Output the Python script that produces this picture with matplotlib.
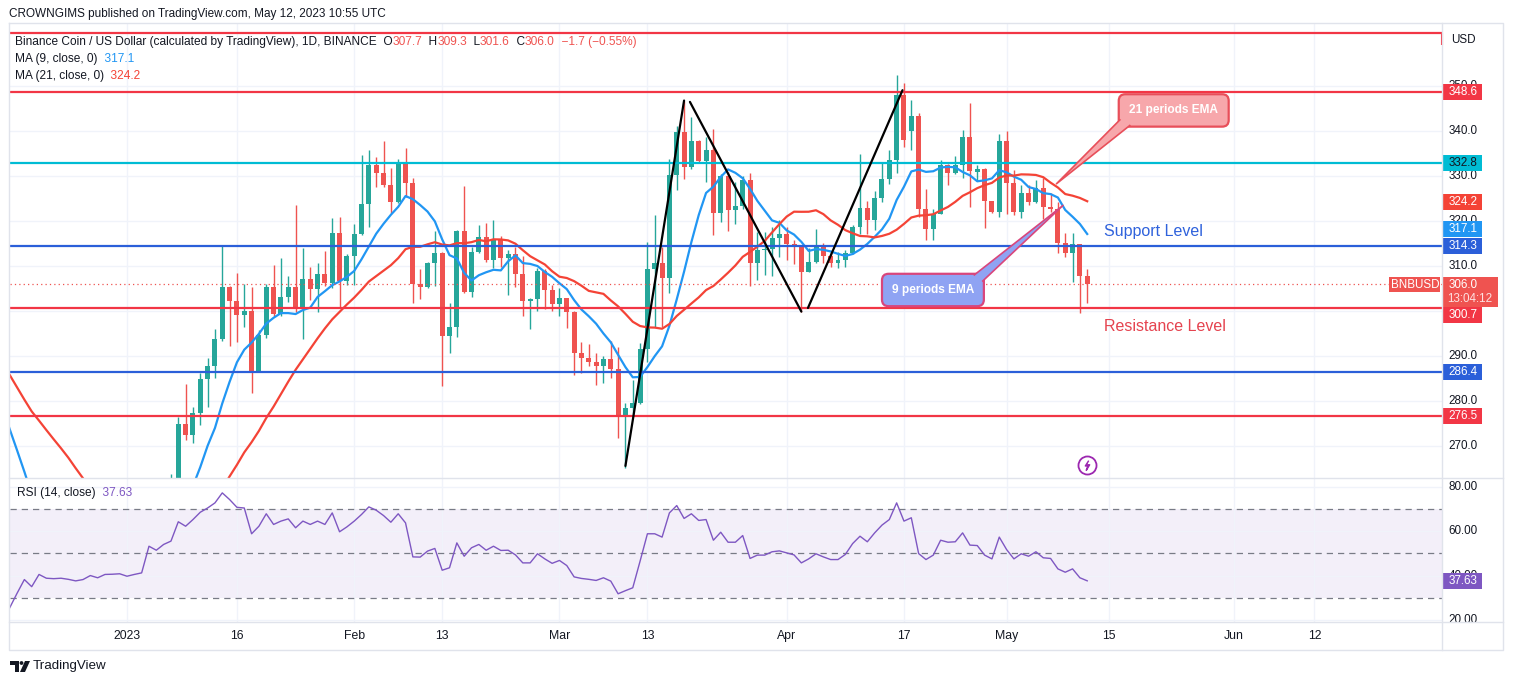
import numpy as np
import pandas as pd
import matplotlib
matplotlib.use("Agg")
import matplotlib.pyplot as plt
from matplotlib.patches import Rectangle, Polygon, FancyBboxPatch
from matplotlib.transforms import blended_transform_factory

plt.rcParams['font.family'] = ['Liberation Sans', 'DejaVu Sans']

# ---------------- data ----------------
# BNB/USD daily candles 2023-01-07 .. 2023-05-12
first_day = '2023-01-07'
opens = [
    # Jan 7-31
    259.0, 260.0, 274.8, 272.4, 277.2, 284.8, 287.6, 293.6, 305.2, 302.2,
    299.0, 300.0, 286.7, 294.7, 305.2, 299.2, 303.0, 305.2, 300.3, 307.0,
    304.8, 308.1, 306.2, 317.2, 306.7,
    # Feb
    312.2, 317.0, 323.7, 332.4, 330.5, 327.9, 324.2, 333.1, 328.3, 305.9,
    305.3, 310.7, 312.8, 294.4, 296.4, 317.6, 304.2, 313.1, 316.4, 311.3,
    315.6, 311.6, 312.6, 308.2, 302.2, 302.6, 308.8, 304.6,
    # Mar
    301.5, 302.8, 299.8, 290.7, 289.4, 288.7, 287.7, 289.2, 287.0, 276.4,
    278.3, 279.4, 291.4, 309.2, 310.6, 307.3, 330.2, 339.8, 331.9, 337.6,
    333.3, 335.6, 321.8, 330.0, 322.4, 323.3, 329.0, 310.7, 313.5, 313.8,
    316.1,
    # Apr
    317.0, 314.8, 314.1, 308.7, 310.9, 314.2, 312.2, 310.5, 311.3, 312.8,
    318.7, 322.8, 320.2, 325.0, 329.2, 333.5, 347.9, 340.0, 343.3, 322.5,
    318.1, 321.5, 332.4, 330.7, 332.4, 338.7, 330.8, 331.4, 324.4, 322.0,
    # May 1-12
    337.8, 328.3, 322.0, 326.1, 324.2, 327.2, 323.1, 322.5, 315.1, 312.9,
    314.8, 307.7,
]
highs = [
    263.6, 276.3, 283.7, 278.7, 286.1, 289.4, 295.9, 314.4, 305.5, 308.3,
    305.9, 305.2, 295.7, 305.9, 310.2, 311.8, 307.7, 323.5, 313.9, 309.8,
    310.7, 313.3, 320.5, 320.8, 312.5,
    319.3, 334.6, 335.6, 334.1, 337.6, 331.6, 333.8, 336.1, 329.5, 309.2,
    310.9, 317.6, 313.0, 301.6, 317.9, 327.7, 314.2, 319.0, 319.4, 320.2,
    316.5, 313.5, 314.2, 312.2, 302.8, 309.4, 309.3, 305.6,
    305.0, 302.9, 300.0, 293.1, 292.6, 290.5, 290.0, 293.3, 292.0, 279.4,
    284.6, 292.8, 315.3, 321.3, 314.2, 333.6, 341.0, 346.7, 343.0, 337.9,
    338.7, 340.3, 330.3, 330.8, 328.7, 330.0, 330.5, 317.4, 317.4, 318.5,
    320.1,
    318.7, 315.6, 314.2, 313.9, 318.1, 315.0, 313.3, 313.0, 313.5, 319.0,
    334.8, 324.3, 326.5, 333.1, 335.6, 352.4, 350.7, 346.8, 344.0, 327.0,
    322.7, 333.4, 332.7, 334.3, 340.2, 346.1, 332.3, 331.8, 324.4, 339.2,
    339.9, 331.3, 327.9, 328.0, 329.0, 329.4, 326.2, 324.2, 317.2, 317.2,
    314.8, 309.3,
]
lows = [
    257.5, 258.5, 271.3, 270.5, 274.6, 278.7, 285.0, 293.3, 292.2, 293.1,
    296.4, 281.6, 286.5, 294.0, 298.8, 298.8, 302.0, 299.6, 293.6, 302.4,
    299.6, 305.4, 305.0, 300.8, 305.6,
    305.8, 316.8, 318.7, 327.4, 327.4, 321.8, 324.0, 325.3, 301.6, 302.7,
    305.0, 305.5, 283.3, 290.5, 294.2, 303.9, 303.0, 312.8, 310.8, 309.4,
    309.8, 303.5, 305.3, 298.8, 295.9, 300.0, 300.3, 300.0,
    298.8, 296.1, 285.7, 286.1, 287.6, 283.5, 284.0, 285.1, 271.6, 265.0,
    277.0, 279.2, 288.7, 296.4, 296.4, 304.0, 326.8, 329.2, 331.5, 333.0,
    328.7, 316.8, 319.8, 317.6, 319.3, 322.6, 305.5, 306.8, 308.0, 307.8,
    312.0,
    311.3, 310.4, 299.8, 308.5, 310.7, 310.7, 309.6, 309.5, 309.6, 312.5,
    317.0, 317.0, 318.0, 324.2, 328.2, 330.5, 336.3, 335.7, 320.9, 315.7,
    315.8, 321.5, 327.9, 330.4, 329.4, 323.1, 328.8, 318.3, 321.6, 320.8,
    321.5, 321.3, 320.5, 323.5, 323.9, 320.3, 322.0, 312.8, 312.0, 306.4,
    299.4, 301.6,
]
closes = [
    260.0, 274.8, 272.4, 277.2, 284.8, 287.6, 293.6, 305.2, 302.2, 299.0,
    300.0, 286.7, 294.7, 305.2, 299.2, 303.0, 305.2, 300.3, 307.0, 304.8,
    308.1, 306.2, 317.2, 306.7, 312.2,
    317.0, 323.7, 332.4, 330.5, 327.9, 324.2, 333.1, 328.3, 305.9, 305.3,
    310.7, 312.8, 294.4, 296.4, 317.6, 304.2, 313.1, 316.4, 311.3, 315.6,
    311.6, 312.6, 308.2, 302.2, 302.6, 308.8, 304.6, 301.5,
    302.8, 299.8, 290.7, 289.4, 288.7, 287.7, 289.2, 287.0, 276.4, 278.3,
    279.4, 291.4, 309.2, 310.6, 307.3, 330.2, 339.8, 331.9, 337.6, 333.3,
    335.6, 321.8, 330.0, 322.4, 323.3, 329.0, 310.7, 313.5, 313.8, 316.1,
    317.0,
    314.8, 314.1, 308.7, 310.9, 314.2, 312.2, 310.5, 311.3, 312.8, 318.7,
    322.8, 320.2, 325.0, 329.2, 333.5, 347.9, 337.9, 343.3, 322.5, 318.1,
    321.5, 332.4, 330.7, 332.4, 338.7, 331.1, 331.4, 324.4, 322.0, 337.8,
    328.3, 322.0, 326.1, 324.2, 327.2, 323.1, 322.5, 315.1, 312.9, 314.8,
    307.6, 306.0,
]
# closes 2022-11-26 .. 2023-01-06 (below the visible range, they only feed the MAs)
warmup_first_day = '2022-11-26'
warmup_closes = [
    305, 302, 297, 296, 295,
    293, 290, 292, 294, 292, 291, 290,
    289, 288, 287, 285, 280, 268, 265, 255, 246,
    247, 245, 242, 253, 251, 250, 248, 248, 245, 245, 242, 239, 242, 245, 246,
    245, 247, 245, 258, 256, 259,
]
# RSI(14) 2022-12-16 .. 2023-05-12
rsi_first_day = '2022-12-16'
rsi = [
    25.5, 32.0, 38.2, 35.0, 40.5, 38.8, 38.6, 38.8, 38.3, 37.6, 38.2, 40.0, 39.0, 40.5, 40.6, 40.8,
    39.7, 40.5, 41.2, 53.2, 51.4, 54.0, 55.5, 64.2, 62.2, 65.2, 68.5, 70.4, 72.7, 77.2, 74.2, 70.7,
    70.4, 58.8, 62.2, 67.8, 63.0, 64.5, 65.5, 61.5, 64.5, 63.0, 64.5, 63.0, 68.2, 59.7, 61.9,
    64.5, 67.5, 70.9, 69.4, 67.0, 64.0, 67.8, 63.7, 48.4, 48.3, 51.0, 52.2, 42.4, 43.5, 54.7, 48.7,
    52.5, 54.0, 51.4, 53.2, 51.3, 51.4, 49.3, 45.7, 45.7, 49.8, 47.5, 45.5,
    46.8, 44.5, 39.4, 38.7, 38.3, 37.8, 39.0, 37.5, 31.8, 33.2, 34.5, 46.5, 58.8, 58.8, 57.3, 68.2,
    71.5, 65.7, 67.8, 64.8, 65.2, 55.9, 59.5, 55.0, 55.0, 58.0, 47.7, 49.2, 49.2, 50.7, 51.1,
    50.2, 49.3, 45.7, 47.5, 49.8, 48.4, 47.2, 47.2, 49.5, 54.4, 57.7, 55.2, 59.2, 62.7, 65.2, 72.7,
    64.5, 66.0, 49.9, 47.2, 49.2, 55.9, 55.0, 55.2, 59.2, 53.7, 53.5, 49.2, 47.5, 57.3,
    51.7, 47.5, 49.8, 48.7, 50.7, 48.0, 47.7, 43.0, 41.5, 43.0, 39.0, 37.63,
]

# horizontal levels drawn on the chart
levels = [361.6, 348.6, 332.8, 314.3, 300.7, 286.4, 276.5]
level_kind = ['red', 'red', 'cyan', 'blue', 'red', 'blue', 'red']

# black W / M pattern lines (days from 2023-01-01, price)
zigzag_days = [(68.0, 76.0), (76.8, 92.0), (92.9, 105.8)]
zigzag_prices = [(265.5, 346.7), (346.4, 299.8), (300.6, 349.0)]

time_ticks = ['2023-01-01', '2023-01-16', '2023-02-01', '2023-02-13', '2023-03-01', '2023-03-13',
              '2023-04-01', '2023-04-17', '2023-05-01', '2023-05-15', '2023-06-01', '2023-06-12']
time_labels = ['2023', '16', 'Feb', '13', 'Mar', '13', 'Apr', '17', 'May', '15', 'Jun', '12']

# price scale labels (300.0 sits fully under the 300.7 tag, as in the original)
price_ticks = [270, 280, 290, 310, 320, 330, 340, 350]
rsi_ticks = [20, 40, 60, 80]

# right scale tags: text, centre (shifted to avoid overlap like TV does), kind
tag_text = ['348.6', '332.8', '324.2', '317.1', '314.3', '300.7', '286.4', '276.5']
tag_pos = [348.6, 332.8, 324.2, 318.1, 314.3, 299.05, 286.4, 276.5]
tag_kind = ['red', 'cyan', 'ma21', 'ma9', 'blue', 'red', 'blue', 'red']
last_price = 306.0
countdown = '13:04:12'

# ---------------- style ----------------
COL = {'red': '#f23645', 'cyan': '#00bcd4', 'blue': '#2b5fd9',
       'ma9': '#2196f3', 'ma21': '#f44336'}
UP, DN = '#26a69a', '#ef5350'
RSI_C = '#7e57c2'
TXT = '#131722'
GRID = '#f0f3fa'
FRAME = '#e0e3eb'
FS = 8.4


def day(s):
    return int((np.datetime64(s) - np.datetime64('2023-01-01')).astype(int))


W, H = 1514, 685
fig = plt.figure(figsize=(W / 100, H / 100), dpi=100)


def px_axes(x0, y0, x1, y1, **kw):
    return fig.add_axes([x0 / W, 1 - y1 / H, (x1 - x0) / W, (y1 - y0) / H], **kw)


ax = px_axes(10, 24, 1442, 478)
axs = px_axes(1442, 24, 1503, 478, sharey=ax)
axr = px_axes(10, 478, 1442, 622, sharex=ax)
axrs = px_axes(1442, 478, 1503, 622, sharey=axr)

XMIN, XMAX = -15.96, 179.4
ax.set_xlim(XMIN, XMAX)
ax.set_ylim(262.82, 363.71)
axr.set_ylim(19.1, 83.9)
for a in (axs, axrs):
    a.set_xlim(0, 61)
    a.axis('off')

tdays = [day(t) for t in time_ticks]
for a in (ax, axr):
    for sp in a.spines.values():
        sp.set_visible(False)
    a.set_xticks(tdays)
    a.grid(True, color=GRID, lw=1, zorder=0)
    a.set_axisbelow(True)
    a.tick_params(length=0, labelleft=False, labelbottom=False)
ax.set_yticks(np.arange(270, 360, 10))
axr.set_yticks(rsi_ticks)
axr.set_xticklabels(time_labels)
axr.tick_params(axis='x', labelbottom=True, pad=6, labelsize=8.8, labelcolor=TXT)

# ---------------- price pane ----------------
days = np.arange(len(closes)) + day(first_day)
o, h, l, c = (np.array(v, dtype=float) for v in (opens, highs, lows, closes))
col = np.where(c >= o, UP, DN)
ax.vlines(days, l, h, colors=col, lw=1, zorder=2)
ax.bar(days, np.maximum(np.abs(c - o), 0.3), bottom=np.minimum(o, c), width=0.68,
       color=col, lw=0, zorder=2.1)

all_close = pd.Series(np.r_[warmup_closes, closes])
all_days = np.arange(len(all_close)) + day(warmup_first_day)
ax.plot(all_days, all_close.rolling(9).mean(), color=COL['ma9'], lw=1.6, zorder=3)
ax.plot(all_days, all_close.rolling(21).mean(), color=COL['ma21'], lw=1.6, zorder=3)

for v, k in zip(levels, level_kind):
    ax.axhline(v, color=COL[k], lw=1.6, zorder=4)
ax.vlines(XMAX, 359.0, levels[0], color=COL['red'], lw=1.5, zorder=4, clip_on=False)
ax.axhline(last_price, color=DN, lw=0.9, ls=(0, (1, 2.5)), zorder=3)

for xs, ys in zip(zigzag_days, zigzag_prices):
    ax.plot(xs, ys, color='black', lw=1.6, zorder=4.5, solid_capstyle='round')

# callouts
ASPECT = (1432 / (XMAX - XMIN)) / (454 / (363.71 - 262.82))


def callout(x0, x1, y0, y1, tip, b1, b2, fc, ec, text):
    ax.add_patch(FancyBboxPatch((x0, y0), x1 - x0, y1 - y0,
                                boxstyle='round,pad=0,rounding_size=0.9',
                                mutation_aspect=ASPECT, fc=fc, ec=ec, lw=1.6, zorder=6))
    ax.add_patch(Polygon([tip, b1, b2], closed=True, fc=fc, ec='none', zorder=6.1))
    ax.plot([b1[0], tip[0], b2[0]], [b1[1], tip[1], b2[1]], color=ec, lw=1.2, zorder=6.2)
    ax.text((x0 + x1) / 2, (y0 + y1) / 2, text, ha='center', va='center', color='white',
            fontsize=8.6, fontweight='bold', zorder=6.3)


callout(135.3, 150.3, 340.9, 348.1, (126.8, 328.2), (135.45, 342.4), (136.8, 341.15),
        '#f7a7ab', '#e84f5a', '21 periods EMA')
callout(103.0, 116.9, 301.0, 308.2, (127.7, 323.4), (115.6, 307.95), (116.75, 306.6),
        '#8fa3f3', '#d9467c', '9 periods EMA')

ax.text(133.3, 317.7, 'Support Level', color='#2f62dc', fontsize=11.5,
        va='center', ha='left', zorder=6)
ax.text(133.3, 296.4, 'Resistance Level', color='#e5434f', fontsize=11.5,
        va='center', ha='left', zorder=6)

# lightning marker on the last bar
bolt = [(0.25, 1.0), (-0.45, -0.1), (0.05, -0.1), (-0.25, -1.0), (0.45, 0.15), (-0.05, 0.15)]
ax.plot(day('2023-05-12'), 265.7, marker='o', ms=13, mfc='white', mec='#9c27b0', mew=1.3, zorder=7)
ax.plot(day('2023-05-12'), 265.7, marker=bolt, ms=7, color='#9c27b0', zorder=7.1)

# ---------------- price scale ----------------
PPU = 454 / (363.71 - 262.82)
for v in price_ticks:
    axs.text(21, v, f'{v:.1f}', ha='center', va='center', fontsize=FS, color=TXT,
             clip_on=True, zorder=1)
axs.text(21, 360.2, 'USD', ha='center', va='center', fontsize=FS, color=TXT)


def tag(a, y, text, fc, tc='white', width=39, hpx=16, ppu=PPU):
    hh = hpx / ppu / 2
    a.add_patch(Rectangle((1, y - hh), width, 2 * hh, fc=fc, lw=0, zorder=3))
    a.text(1 + 20, y, text, ha='center', va='center', fontsize=FS, color=tc, zorder=4)


for t, y, k in zip(tag_text, tag_pos, tag_kind):
    tag(axs, y, t, COL[k], TXT if k == 'cyan' else 'white')

# last price box with countdown and symbol tag
axs.add_patch(Rectangle((1, 300.9), 55, 6.6, fc=DN, lw=0, zorder=3))
axs.text(21, 305.7, f'{last_price:.1f}', ha='center', va='center', fontsize=FS, color='white', zorder=4)
axs.text(5, 302.5, countdown, ha='left', va='center', fontsize=FS, color='#fde0e0', zorder=4)
bt = blended_transform_factory(ax.transAxes, ax.transData)
ax.add_patch(Rectangle((0.9629, 304.1), 0.0357, 3.4, transform=bt, fc=DN, lw=0, zorder=6))
ax.text(0.9811, 305.8, 'BNBUSD', transform=bt, ha='center', va='center', fontsize=FS,
        color='white', zorder=6.1)

# ---------------- RSI pane ----------------
rdays = np.arange(len(rsi)) + day(rsi_first_day)
axr.axhspan(30, 70, color=RSI_C, alpha=0.09, lw=0, zorder=0.5)
for v in (70, 50, 30):
    axr.axhline(v, color='#787b86', lw=0.9, ls=(0, (5, 4)), zorder=1)
axr.plot(rdays, rsi, color=RSI_C, lw=1, zorder=3)
for v in rsi_ticks:
    axrs.text(21, v, f'{v:.2f}', ha='center', va='center', fontsize=FS, color=TXT,
              clip_on=True, zorder=1)
tag(axrs, rsi[-1], f'{rsi[-1]:.2f}', RSI_C, ppu=144 / (83.9 - 19.1))

# ---------------- frame, header, footer (pixel overlay) ----------------
ov = px_axes(0, 0, W, H)
ov.set_xlim(0, W)
ov.set_ylim(H, 0)
ov.axis('off')
ov.plot([9, 1503, 1503, 9, 9], [23, 23, 650, 650, 23], color=FRAME, lw=1)
ov.plot([1442, 1442], [23, 650], color=FRAME, lw=1)
ov.plot([9, 1503], [478, 478], color=FRAME, lw=1)
ov.plot([9, 1503], [622, 622], color=FRAME, lw=1)


def chain(x, y, parts, size=FS):
    t = ov.text(x, y, parts[0][0], color=parts[0][1], fontsize=size, va='center', ha='left')
    for s, cc in parts[1:]:
        t = ov.annotate(s, xy=(1, 0.5), xycoords=t, va='center', ha='left', color=cc,
                        fontsize=size)
    return t


chain(9, 14, [('CROWNGIMS published on TradingView.com, May 12, 2023 10:55 UTC', TXT)], 8.5)
chain(15, 42, [('Binance Coin / US Dollar (calculated by TradingView), 1D, BINANCE', TXT),
               ('  O', TXT), ('307.7', DN), ('  H', TXT), ('309.3', DN), ('  L', TXT),
               ('301.6', DN), ('  C', TXT), ('306.0', DN), ('  \u22121.7 (\u22120.55%)', DN)], 8.6)
chain(15, 59, [('MA (9, close, 0)', TXT), ('  317.1', COL['ma9'])], 8.6)
chain(15, 76, [('MA (21, close, 0)', TXT), ('  324.2', COL['ma21'])], 8.6)
chain(17, 493, [('RSI (14, close)', TXT), ('  37.63', RSI_C)], 8.6)

# TradingView logo
ov.add_patch(Polygon([(10, 661), (19, 661), (19, 672), (15, 672), (15, 665), (10, 665)],
                     closed=True, fc=TXT, lw=0))
ov.add_patch(plt.Circle((21.5, 663), 1.9, fc=TXT, lw=0))
ov.add_patch(Polygon([(25, 661), (30, 661), (25, 672), (20, 672)], closed=True, fc=TXT, lw=0))
ov.text(33, 666.5, 'TradingView', fontsize=9.6, color=TXT, va='center', ha='left')

fig.savefig('out.png', dpi=100, facecolor='white')
